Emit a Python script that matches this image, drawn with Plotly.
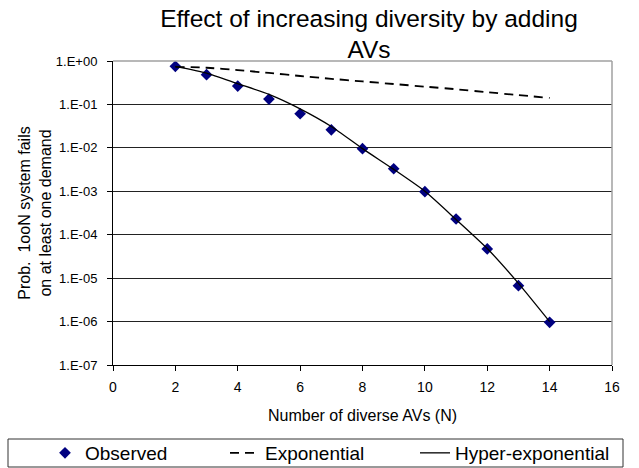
import plotly.graph_objects as go

# ---- data ----
n_obs = [2, 3, 4, 5, 6, 7, 8, 9, 10, 11, 12, 13, 14]
p_obs = [0.755, 0.485, 0.265, 0.133, 0.061, 0.026, 0.0096, 0.0033, 0.00098,
         2.3e-4, 4.7e-5, 6.7e-6, 9.6e-7]
n_fit = [2, 3, 4, 5, 6, 7, 8, 9, 10, 11, 12, 13, 14]
p_exp = [0.735, 0.700, 0.617, 0.531, 0.452, 0.389, 0.339, 0.295, 0.257, 0.224,
         0.191, 0.164, 0.141]
p_hyper = [0.755, 0.528, 0.30, 0.17, 0.079, 0.031, 0.0096, 0.0032, 0.001,
           2.24e-4, 4.8e-5, 7.6e-6, 1.0e-6]
y_tickvals = [1e0, 1e-1, 1e-2, 1e-3, 1e-4, 1e-5, 1e-6, 1e-7]
y_ticktext = ["1.E+00", "1.E-01", "1.E-02", "1.E-03", "1.E-04", "1.E-05",
              "1.E-06", "1.E-07"]
x_tickvals = [0, 2, 4, 6, 8, 10, 12, 14, 16]

FONT = "Liberation Sans, Arial, sans-serif"
W, H = 639, 468
PLOT_L, PLOT_R, PLOT_T, PLOT_B = 113, 612, 61, 365
ML, MR, MT, MB = PLOT_L, W - PLOT_R, PLOT_T, H - PLOT_B
PW = PLOT_R - PLOT_L
PH = PLOT_B - PLOT_T

def px_x(px):
    return (px - PLOT_L) / PW

def px_y(py):
    return (PLOT_B - py) / PH

fig = go.Figure()
fig.add_trace(go.Scatter(
    x=n_obs, y=p_obs, mode="markers", name="Observed", legend="legend",
    marker=dict(symbol="diamond", size=9, color="#000080"),
))
fig.add_trace(go.Scatter(
    x=n_fit, y=p_exp, mode="lines", name="Exponential", legend="legend2",
    line=dict(color="black", width=1.8, dash="9px,6px", shape="spline", smoothing=0.5),
))
fig.add_trace(go.Scatter(
    x=n_fit, y=p_hyper, mode="lines", name="Hyper-exponential", legend="legend3",
    line=dict(color="black", width=1.3, shape="spline", smoothing=0.6),
))

def legend_at(px_left):
    return dict(
        orientation="h", x=px_x(px_left), xanchor="left",
        y=px_y(453), yanchor="middle",
        font=dict(size=19, family=FONT, color="black"),
        bgcolor="rgba(0,0,0,0)", borderwidth=0,
    )

fig.update_layout(
    width=W, height=H,
    margin=dict(l=ML, r=MR, t=MT, b=MB, autoexpand=False),
    paper_bgcolor="white", plot_bgcolor="white",
    font=dict(family=FONT, color="black"),
    title=dict(
        text="Effect of increasing diversity by adding<br>AVs",
        font=dict(size=24.5, family=FONT, color="black"),
        xref="paper", x=0.513, xanchor="center",
        yref="container", y=1 - 26.5 / H, yanchor="top",
    ),
    xaxis=dict(
        range=[0, 16], tickvals=x_tickvals, ticks="outside", ticklen=5,
        tickcolor="black", showline=True, linecolor="black", linewidth=1,
        showgrid=False, zeroline=False, automargin=False,
        ticklabelstandoff=4,
        tickfont=dict(size=14, family=FONT, color="black"),
        title=dict(text="Number of diverse AVs (N)",
                   font=dict(size=16, family=FONT, color="black"), standoff=16),
    ),
    yaxis=dict(
        type="log", range=[-7, 0], tickvals=y_tickvals, ticktext=y_ticktext,
        ticks="outside", ticklen=5, tickcolor="black",
        showline=True, linecolor="black", linewidth=1,
        showgrid=True, gridcolor="#222222", gridwidth=1, zeroline=False,
        automargin=False, ticklabelstandoff=7,
        tickfont=dict(size=13, family=FONT, color="black"),
        title=dict(text="Prob.  1ooN system fails<br>on at least one demand",
                   font=dict(size=16, family=FONT, color="black"), standoff=0),
    ),
    showlegend=True,
    legend=legend_at(45),
    legend2=legend_at(225),
    legend3=legend_at(415),
    hovermode=False,
    shapes=[
        dict(type="line", xref="paper", yref="paper", x0=0, x1=1, y0=1, y1=1,
             line=dict(color="#a0a0a0", width=1.5), layer="above"),
        dict(type="line", xref="paper", yref="paper", x0=1, x1=1, y0=0, y1=1,
             line=dict(color="#a0a0a0", width=1.5), layer="above"),
        dict(type="rect", xref="paper", yref="paper",
             x0=px_x(8), x1=px_x(623), y0=px_y(467), y1=px_y(439),
             line=dict(color="#333333", width=1), fillcolor="rgba(0,0,0,0)"),
    ],
)

# remove the browser's default 8px body margin so the figure sits at (0, 0)
fig.write_html("out.html", config={"displayModeBar": False},
               post_script="document.body.style.margin='0';")
